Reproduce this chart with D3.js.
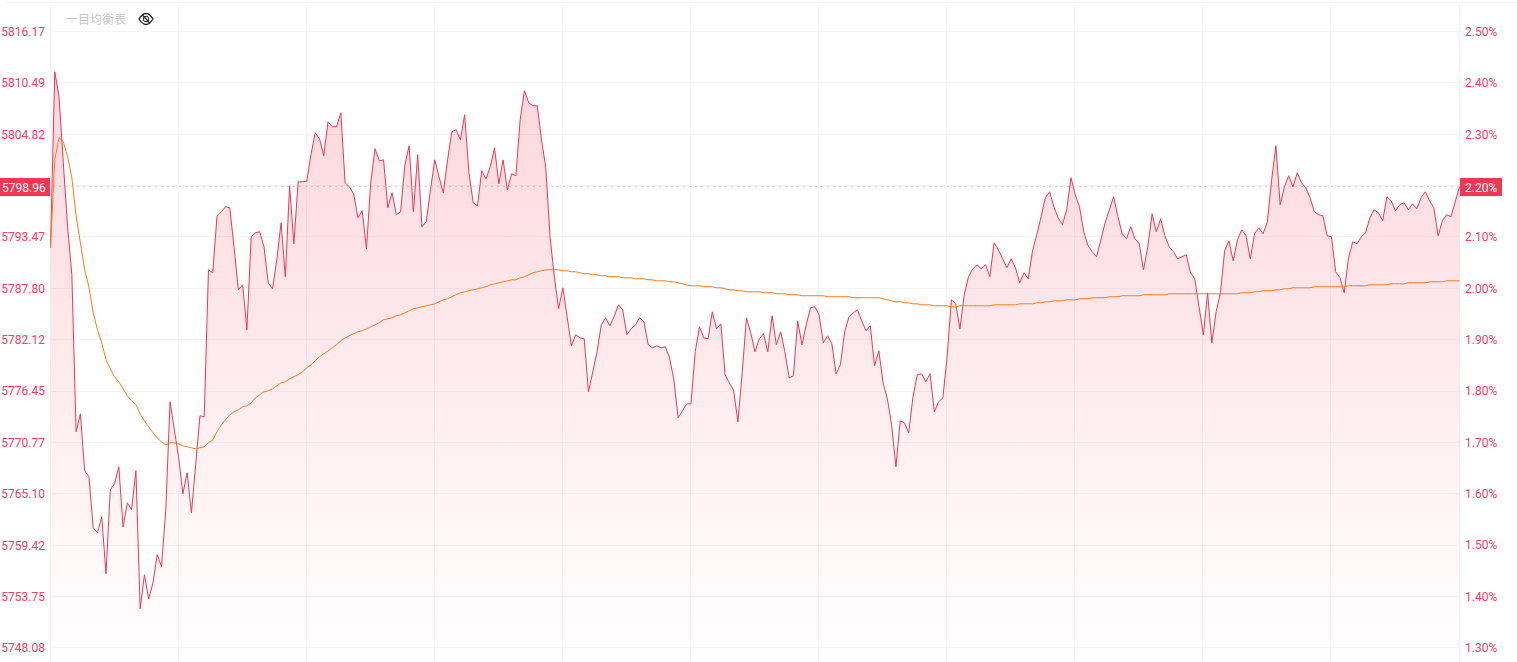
<!DOCTYPE html>
<html><head><meta charset="utf-8">
<script src="https://cdn.jsdelivr.net/npm/d3@7/dist/d3.min.js"></script>
<style>
html,body{margin:0;padding:0;background:#fff;overflow:hidden}
svg{display:block}
text{font-family:Roboto,sans-serif;font-size:12px}
</style></head><body>
<svg id="c" width="1517" height="662"></svg>
<script>
const priceTicks=[5816.17,5810.49,5804.82,5799.14,5793.47,5787.80,5782.12,5776.45,5770.77,5765.10,5759.42,5753.75,5748.08];
const priceLabelsHidden=[5799.14];
const pctTicks=[2.5,2.4,2.3,2.2,2.1,2.0,1.9,1.8,1.7,1.6,1.5,1.4,1.3];
const lastPrice=5798.96;
const lastPct=2.20;
const indicatorName="一目均衡表";
const prices=[
5792.22,5811.67,5808.91,5801.61,5794.54,5789.24,5771.89,5773.88,5767.58,5766.92,
5761.28,5760.73,5762.50,5756.20,5765.48,5766.14,5768.02,5761.39,5764.04,5763.27,
5767.58,5752.33,5756.09,5753.43,5755.20,5758.30,5756.97,5763.27,5775.20,5772.11,
5769.13,5765.04,5767.36,5762.94,5768.24,5773.66,5773.55,5789.79,5789.46,5795.76,
5796.20,5796.75,5796.64,5792.22,5787.58,5788.13,5783.16,5793.44,5793.88,5793.99,
5792.33,5788.35,5787.69,5790.89,5794.98,5789.02,5799.07,5792.66,5799.51,5799.51,
5799.55,5802.50,5804.93,5804.26,5802.39,5806.14,5805.59,5805.59,5807.14,5799.40,
5798.96,5798.19,5795.54,5796.31,5792.11,5799.40,5803.16,5801.83,5801.94,5796.64,
5798.30,5795.87,5796.20,5801.39,5803.49,5796.20,5802.50,5794.54,5795.09,5798.63,
5801.94,5800.07,5798.30,5801.94,5805.04,5805.26,5804.15,5806.92,5800.51,5797.19,
5796.86,5800.73,5799.84,5801.17,5803.27,5799.29,5801.94,5798.63,5800.40,5800.18,
5806.36,5809.57,5808.24,5807.91,5807.91,5804.15,5801.06,5793.44,5789.02,5785.48,
5787.80,5784.60,5781.39,5782.61,5782.27,5782.16,5776.31,5778.52,5780.73,5783.71,
5784.48,5783.60,5784.60,5785.92,5785.37,5782.61,5783.27,5783.71,5784.48,5784.04,
5781.50,5781.17,5781.39,5781.17,5781.28,5780.06,5777.63,5773.43,5774.21,5774.98,
5774.98,5780.73,5783.49,5782.27,5782.16,5785.15,5783.27,5783.82,5778.19,5777.30,
5776.42,5772.99,5778.41,5784.48,5782.83,5780.73,5782.16,5782.72,5780.73,5784.71,
5781.50,5782.94,5780.73,5777.85,5778.08,5784.15,5781.50,5783.71,5785.59,5785.70,
5784.82,5781.72,5782.50,5781.61,5778.30,5779.29,5782.94,5784.60,5785.04,5785.37,
5784.15,5783.05,5783.60,5779.18,5780.84,5777.30,5775.53,5772.66,5768.02,5773.10,
5772.88,5771.78,5775.76,5778.19,5778.30,5777.41,5778.30,5774.10,5775.20,5775.64,
5780.18,5786.47,5786.03,5783.27,5787.03,5789.02,5789.90,5790.34,5789.90,5790.34,
5789.02,5792.77,5792.00,5791.00,5790.01,5791.00,5790.01,5788.35,5789.46,5788.79,
5791.89,5793.66,5795.65,5797.75,5798.41,5796.75,5795.54,5794.76,5796.42,5799.96,
5798.08,5796.75,5793.99,5792.44,5791.78,5791.23,5793.10,5794.98,5796.42,5797.86,
5795.65,5793.77,5793.21,5794.54,5793.21,5792.66,5789.79,5792.33,5795.98,5793.99,
5795.42,5793.55,5792.33,5791.78,5791.00,5791.23,5791.45,5789.46,5788.79,5785.70,
5782.61,5787.25,5781.72,5785.15,5787.25,5791.89,5792.99,5790.78,5793.10,5794.21,
5793.55,5791.00,5793.77,5794.43,5793.77,5795.09,5799.73,5803.49,5796.97,5798.96,
5800.18,5798.96,5800.51,5799.40,5798.85,5797.75,5796.20,5795.87,5795.76,5793.55,
5793.44,5789.57,5788.91,5787.25,5791.12,5792.88,5792.66,5793.44,5793.88,5795.54,
5796.42,5796.09,5795.20,5797.86,5797.41,5796.31,5796.97,5797.19,5796.42,5797.08,
5796.53,5797.75,5798.41,5797.41,5796.64,5793.55,5795.20,5795.87,5795.65,5797.30,
5798.96];
const average=[
5792.22,5801.94,5804.38,5803.93,5802.28,5799.96,5795.76,5792.77,5789.79,5787.91,
5785.04,5783.16,5781.72,5779.84,5778.85,5777.97,5777.41,5776.64,5775.87,5775.31,
5774.87,5773.88,5773.10,5772.44,5771.78,5771.22,5770.78,5770.45,5770.67,5770.67,
5770.56,5770.34,5770.23,5770.12,5770.01,5770.12,5770.23,5770.67,5771.00,5771.89,
5772.66,5773.21,5773.77,5774.10,5774.32,5774.65,5774.76,5775.09,5775.64,5775.98,
5776.31,5776.42,5776.64,5776.97,5777.30,5777.41,5777.74,5777.97,5778.19,5778.52,
5778.96,5779.29,5779.73,5780.18,5780.51,5780.84,5781.17,5781.50,5781.94,5782.27,
5782.50,5782.72,5782.94,5783.05,5783.27,5783.49,5783.71,5783.93,5784.26,5784.37,
5784.48,5784.71,5784.82,5785.04,5785.26,5785.48,5785.59,5785.70,5785.81,5785.92,
5786.03,5786.25,5786.47,5786.58,5786.81,5787.03,5787.25,5787.36,5787.47,5787.58,
5787.69,5787.80,5787.91,5788.13,5788.24,5788.35,5788.46,5788.57,5788.68,5788.68,
5788.91,5789.02,5789.24,5789.46,5789.57,5789.68,5789.79,5789.79,5789.79,5789.79,
5789.68,5789.68,5789.57,5789.57,5789.46,5789.35,5789.35,5789.24,5789.24,5789.13,
5789.13,5789.02,5789.02,5789.02,5788.91,5788.91,5788.91,5788.79,5788.79,5788.79,
5788.68,5788.68,5788.57,5788.57,5788.57,5788.46,5788.46,5788.35,5788.24,5788.13,
5788.02,5788.02,5788.02,5787.91,5787.91,5787.91,5787.80,5787.80,5787.69,5787.58,
5787.58,5787.47,5787.47,5787.36,5787.36,5787.36,5787.36,5787.25,5787.25,5787.25,
5787.14,5787.14,5787.14,5787.03,5787.03,5787.03,5786.92,5786.92,5786.92,5786.92,
5786.92,5786.92,5786.81,5786.81,5786.81,5786.81,5786.81,5786.81,5786.70,5786.70,
5786.70,5786.70,5786.70,5786.70,5786.70,5786.58,5786.47,5786.36,5786.25,5786.25,
5786.14,5786.14,5786.03,5786.03,5785.92,5785.92,5785.92,5785.81,5785.81,5785.81,
5785.81,5785.70,5785.70,5785.81,5785.81,5785.81,5785.81,5785.81,5785.81,5785.81,
5785.81,5785.92,5785.92,5785.92,5785.92,5785.92,5785.92,5786.03,5786.03,5786.03,
5786.03,5786.14,5786.14,5786.25,5786.25,5786.36,5786.36,5786.36,5786.47,5786.47,
5786.47,5786.58,5786.58,5786.58,5786.70,5786.70,5786.70,5786.70,5786.81,5786.81,
5786.81,5786.92,5786.92,5786.92,5786.92,5786.92,5787.03,5787.03,5787.03,5787.03,
5787.03,5787.03,5787.14,5787.14,5787.14,5787.14,5787.14,5787.14,5787.14,5787.14,
5787.14,5787.14,5787.14,5787.14,5787.14,5787.14,5787.14,5787.14,5787.14,5787.25,
5787.25,5787.25,5787.36,5787.36,5787.47,5787.47,5787.47,5787.58,5787.58,5787.69,
5787.69,5787.80,5787.80,5787.80,5787.80,5787.80,5787.91,5787.91,5787.91,5787.91,
5787.91,5787.91,5787.91,5787.91,5788.02,5788.02,5788.02,5788.02,5788.02,5788.13,
5788.13,5788.13,5788.13,5788.13,5788.24,5788.24,5788.24,5788.24,5788.35,5788.35,
5788.35,5788.35,5788.35,5788.46,5788.46,5788.46,5788.46,5788.57,5788.57,5788.57,
5788.57];

const W=1517,H=662,left=50.5,right=1459.5;
const svg=d3.select("#c");
const x=d3.scaleLinear().domain([0,330]).range([left,right]);
const y=d3.scaleLinear().domain([5748.08,5816.17]).range([647.3,31]);
const yPct=d3.scaleLinear().domain([1.3,2.5]).range([647.3,31]);
const gridC="#f5f5f7";
const red="#f23654",lab="#f5405f",orange="#ff7a1a";

const defs=svg.append("defs");
const g=defs.append("linearGradient").attr("id","fade").attr("gradientUnits","userSpaceOnUse")
 .attr("x1",0).attr("x2",0).attr("y1",y(d3.max(prices))).attr("y2",H);
g.append("stop").attr("offset",0).attr("stop-color",red).attr("stop-opacity",0.2);
g.append("stop").attr("offset",1).attr("stop-color",red).attr("stop-opacity",0);

// grid
const grid=svg.append("g").attr("stroke",gridC).attr("fill","none").attr("shape-rendering","crispEdges");
grid.selectAll(".h").data(pctTicks).join("line").attr("x1",left).attr("x2",right)
 .attr("y1",d=>Math.round(yPct(d))+.5).attr("y2",d=>Math.round(yPct(d))+.5);
grid.selectAll(".v").data(d3.range(0,331,30)).join("line").attr("y1",3).attr("y2",H)
 .attr("x1",d=>Math.round(x(d))-.5).attr("x2",d=>Math.round(x(d))-.5);
grid.append("line").attr("x1",6).attr("x2",W).attr("y1",2.5).attr("y2",2.5);

// area + lines
svg.append("path").datum(prices).attr("fill","url(#fade)")
 .attr("d",d3.area().x((d,i)=>x(i)).y0(H).y1(d=>y(d)));
const lineGen=d3.line().x((d,i)=>x(i)).y(d=>y(d));
svg.append("path").datum(prices).attr("fill","none").attr("stroke",red).attr("stroke-width",1).attr("d",lineGen);
svg.append("path").datum(average).attr("fill","none").attr("stroke",orange).attr("stroke-width",1).attr("d",lineGen);

// last price dotted line
svg.append("line").attr("x1",left+3).attr("x2",right).attr("y1",186.5).attr("y2",186.5)
 .attr("stroke","#e8849a").attr("stroke-width",1).attr("stroke-dasharray","1 5");

// axes
const ax=d3.axisLeft(y).tickValues(priceTicks.filter(t=>!priceLabelsHidden.includes(t))).tickFormat(d3.format(".2f")).tickSize(0).tickPadding(0);
const axG=svg.append("g").attr("transform","translate(45,0.5)").call(ax);
axG.select(".domain").remove();
axG.selectAll("text").attr("fill",lab).style("font-size","12px").style("font-family","Roboto,sans-serif");
const ay=d3.axisRight(yPct).tickValues(pctTicks.filter(t=>t!==lastPct)).tickFormat(d=>d3.format(".2f")(d)+"%").tickSize(0).tickPadding(0);
const ayG=svg.append("g").attr("transform","translate(1465,0.5)").call(ay);
ayG.select(".domain").remove();
ayG.selectAll("text").attr("fill",lab).style("font-size","12px").style("font-family","Roboto,sans-serif");

// last value tags
const tagC="#f23654";
svg.append("rect").attr("x",0).attr("y",178).attr("width",50).attr("height",18).attr("fill",tagC);
svg.append("text").attr("x",2).attr("y",192).attr("fill","#fff").text(d3.format(".2f")(lastPrice));
svg.append("rect").attr("x",1460).attr("y",178).attr("width",42).attr("height",18).attr("fill",tagC);
svg.append("text").attr("x",1465).attr("y",192).attr("fill","#fff").text(d3.format(".2f")(lastPct)+"%");

// legend
svg.append("text").attr("x",66).attr("y",24).attr("fill","#c4c7cd")
 .style("font-family","'Noto Sans CJK SC',sans-serif").style("font-size","12px").text(indicatorName);
const eye=svg.append("g").attr("transform","translate(146,19)").attr("fill","none").attr("stroke","#222").attr("stroke-width",1.3);
eye.append("path").attr("d","M-7,0 Q-3.5,-5.5 0,-5.5 Q3.5,-5.5 7,0 Q3.5,5.5 0,5.5 Q-3.5,5.5 -7,0Z");
eye.append("circle").attr("r",2.8).attr("stroke-width",1);
eye.append("line").attr("x1",-3.5).attr("y1",-4).attr("x2",4).attr("y2",4.5).attr("stroke-width",1.2);
</script>
</body></html>
